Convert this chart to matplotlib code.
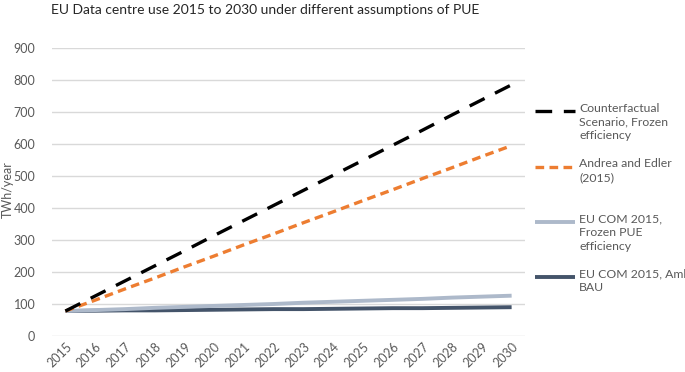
import matplotlib
matplotlib.use("Agg")
import matplotlib.pyplot as plt
from matplotlib.lines import Line2D

plt.rcParams['font.family'] = ['Lato', 'DejaVu Sans']

# data
years = list(range(2015, 2031))
counterfactual = [78, 125, 172, 219, 266, 314, 361, 408, 455, 502, 549, 596, 643, 691, 738, 785]
andrea_edler = [78, 112, 147, 181, 216, 250, 285, 319, 354, 388, 423, 457, 492, 526, 561, 595]
frozen_pue = [78, 81, 84, 88, 91, 94, 97, 100, 104, 107, 110, 113, 116, 120, 123, 126]
amb_bau = [78, 79, 80, 80, 81, 82, 83, 84, 84, 85, 86, 87, 87, 88, 89, 90]

labels = ["Counterfactual\nScenario, Frozen\nefficiency",
          "Andrea and Edler\n(2015)",
          "EU COM 2015,\nFrozen PUE\nefficiency",
          "EU COM 2015, Amb\nBAU"]

grey = "#595959"
W, H = 685, 372

fig = plt.figure(figsize=(6.85, 3.72), dpi=100)
ax = fig.add_axes([52/W, 1 - 336/H, (525 - 52)/W, (336 - 48)/H])

x = list(range(len(years)))
l4, = ax.plot(x, amb_bau, color="#44546A", lw=2.8, solid_capstyle="butt", zorder=3)
l3, = ax.plot(x, frozen_pue, color="#ADB9CA", lw=2.8, solid_capstyle="butt", zorder=3)
l2, = ax.plot(x, andrea_edler, color="#ED7D31", lw=2.4, dashes=(2.6, 1.6), zorder=4)
l1, = ax.plot(x, counterfactual, color="black", lw=2.4, dashes=(5, 3.5), zorder=5)

ax.set_xlim(-0.45, len(years) - 1 + 0.45)
ax.set_ylim(0, 900)
ax.set_yticks(range(0, 901, 100))
ax.set_xticks(x)
ax.set_xticklabels([str(y) for y in years], rotation=45, ha="right",
                   rotation_mode="anchor", fontsize=9, color=grey)
ax.tick_params(axis="y", labelsize=9, labelcolor=grey, length=0, pad=12)
ax.tick_params(axis="x", length=0, pad=3)
ax.grid(axis="y", color="#D9D9D9", lw=1)
ax.set_axisbelow(True)
for s in ax.spines.values():
    s.set_visible(False)

fig.text(8/W, 1 - 190/H, "TWh/year", rotation=90, ha="center", va="center",
         fontsize=9, color=grey)
fig.text(51/W, 1 - 10/H, "EU Data centre use 2015 to 2030 under different assumptions of PUE",
         ha="left", va="center", fontsize=10, color="#262626")

# legend drawn by hand: handle level with the first text line, uneven gaps
handles = [l1, l2, l3, l4]
rows = [111, 167, 222, 277]
for h, lab, ry in zip(handles, labels, rows):
    yf = 1 - ry / H
    seg = Line2D([535/W, 575/W], [yf, yf], transform=fig.transFigure,
                 color=h.get_color(), lw=h.get_linewidth(),
                 solid_capstyle="butt")
    if h.get_linestyle() not in ("-", "solid"):
        seg.set_dashes(h._unscaled_dash_pattern[1])
        seg.set_dash_capstyle("butt")
    fig.add_artist(seg)
    fig.text(579/W, 1 - (ry - 8.5)/H, lab, ha="left", va="top",
             fontsize=8.8, color=grey, linespacing=1.28)

fig.savefig("out.png", dpi=100)
